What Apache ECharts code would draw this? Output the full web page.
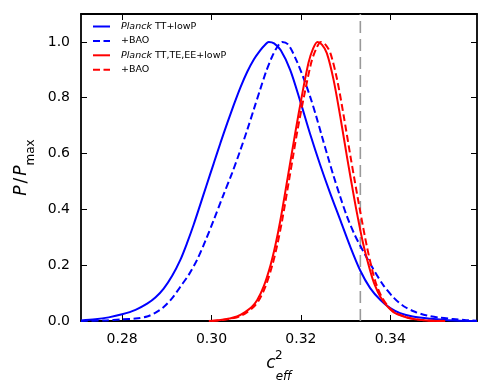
<!DOCTYPE html>
<html>
<head>
<meta charset="utf-8">
<script src="https://cdn.jsdelivr.net/npm/echarts@6/dist/echarts.min.js"></script>
<style>
html,body{margin:0;padding:0;background:#fff;}
#chart{width:491px;height:388px;}
</style>
</head>
<body>
<div id="chart"></div>
<script>
// ---- data ----
const xMin = 0.2708, xMax = 0.3594;
const yMin = 0, yMax = 1.1;
const xTicks = [0.28, 0.30, 0.32, 0.34];
const yTicks = [0.0, 0.2, 0.4, 0.6, 0.8, 1.0];
const refLineX = [0.3333];

const blueSolidX = [0.2708,0.2740,0.2770,0.2800,0.2830,0.2856,0.2875,0.2893,0.2912,0.2930,0.2945,0.2960,0.2975,0.2988,0.3005,0.3020,0.3035,0.3050,0.3065,0.3080,0.3095,0.3109,0.3120,0.3128,0.3140,0.3155,0.3176,0.3199,0.3221,0.3243,0.3265,0.3288,0.3310,0.3333,0.3355,0.3378,0.3400,0.3422,0.3450,0.3490,0.3530,0.3594];
const blueSolidY = [0.002,0.006,0.013,0.024,0.040,0.062,0.085,0.116,0.162,0.218,0.278,0.345,0.418,0.482,0.565,0.638,0.708,0.775,0.838,0.893,0.938,0.970,0.990,1.000,0.995,0.970,0.900,0.785,0.668,0.560,0.460,0.362,0.268,0.180,0.118,0.075,0.046,0.028,0.016,0.008,0.003,0.000];

const blueDashX = [0.2708,0.2760,0.2800,0.2830,0.2856,0.2875,0.2893,0.2912,0.2930,0.2950,0.2968,0.2987,0.3005,0.3025,0.3046,0.3063,0.3080,0.3095,0.3109,0.3122,0.3135,0.3147,0.3158,0.3172,0.3191,0.3206,0.3221,0.3234,0.3247,0.3260,0.3273,0.3288,0.3303,0.3320,0.3340,0.3362,0.3385,0.3408,0.3430,0.3455,0.3482,0.3510,0.3540,0.3570,0.3594];
const blueDashY = [0.000,0.002,0.006,0.009,0.016,0.030,0.050,0.082,0.122,0.168,0.220,0.290,0.362,0.445,0.530,0.605,0.685,0.760,0.830,0.893,0.945,0.982,1.000,0.990,0.930,0.870,0.802,0.735,0.662,0.590,0.520,0.445,0.375,0.310,0.248,0.186,0.127,0.083,0.053,0.033,0.020,0.012,0.007,0.003,0.001];

const redSolidX = [0.2994,0.3020,0.3040,0.3057,0.3075,0.3090,0.3102,0.3117,0.3132,0.3143,0.3154,0.3169,0.3179,0.3188,0.3202,0.3217,0.3227,0.3237,0.3247,0.3258,0.3273,0.3288,0.3303,0.3311,0.3325,0.3340,0.3355,0.3365,0.3378,0.3392,0.3407,0.3430,0.3452,0.3480,0.3520];
const redSolidY = [0.000,0.004,0.009,0.016,0.032,0.050,0.074,0.125,0.200,0.272,0.360,0.500,0.595,0.680,0.805,0.925,0.975,1.000,0.990,0.960,0.865,0.733,0.589,0.515,0.390,0.272,0.180,0.130,0.086,0.055,0.032,0.016,0.007,0.002,0.000];

const redDashX = [0.3000,0.3025,0.3045,0.3062,0.3080,0.3094,0.3106,0.3121,0.3136,0.3147,0.3158,0.3173,0.3183,0.3192,0.3207,0.3223,0.3234,0.3245,0.3255,0.3266,0.3281,0.3296,0.3311,0.3319,0.3333,0.3347,0.3360,0.3369,0.3381,0.3394,0.3409,0.3432,0.3455,0.3485,0.3525];
const redDashY = [0.000,0.004,0.009,0.016,0.032,0.050,0.074,0.125,0.200,0.272,0.360,0.500,0.595,0.680,0.805,0.925,0.975,1.000,0.990,0.960,0.865,0.733,0.589,0.515,0.390,0.272,0.180,0.130,0.086,0.055,0.032,0.016,0.007,0.002,0.000];

const seriesKeys = ['s1', 's2', 's3', 's4'];
const legendLabels = ['{i|Planck} TT+lowP', '+BAO', '{i|Planck} TT,TE,EE+lowP', '+BAO'];
// ---------------------------------------

const FONT = 'DejaVu Sans';
const zip = (xs, ys) => xs.map((x, i) => [x, ys[i]]);

const chart = echarts.init(document.getElementById('chart'), null, {renderer: 'canvas'});

const axisLineStyle = {color: '#000', width: 1.8};
const mkX = (pos, labels) => ({
  type: 'value', position: pos, min: xMin, max: xMax,
  axisLine: {show: true, onZero: false, lineStyle: axisLineStyle},
  axisTick: {show: true, inside: true, length: 6, customValues: xTicks, lineStyle: {color: '#000', width: 1}},
  axisLabel: labels ? {show: true, customValues: xTicks, formatter: v => v.toFixed(2), color: '#000', fontFamily: FONT, fontSize: 14, margin: 11} : {show: false},
  splitLine: {show: false}
});
const mkY = (pos, labels) => ({
  type: 'value', position: pos, min: yMin, max: yMax,
  axisLine: {show: true, onZero: false, lineStyle: axisLineStyle},
  axisTick: {show: true, inside: true, length: 6, customValues: yTicks, lineStyle: {color: '#000', width: 1}},
  axisLabel: labels ? {show: true, customValues: yTicks, formatter: v => v.toFixed(1), color: '#000', fontFamily: FONT, fontSize: 14, margin: 11} : {show: false},
  splitLine: {show: false}
});

const xBottom = mkX('bottom', true);
xBottom.name = '{c|c}{e|eff}';
xBottom.nameLocation = 'middle';
xBottom.nameGap = 34;
xBottom.nameTextStyle = {
  rich: {
    c: {fontFamily: FONT, fontStyle: 'italic', fontSize: 17, color: '#000', lineHeight: 22, verticalAlign: 'top'},
    e: {fontFamily: FONT, fontStyle: 'italic', fontSize: 12, color: '#000', lineHeight: 22, verticalAlign: 'bottom', padding: [0, 0, -6, 0]}
  }
};
const yLeft = mkY('left', true);
yLeft.name = '{p|P}{s|/}{p|P}{m|max}';
yLeft.nameLocation = 'middle';
yLeft.nameRotate = 90;
yLeft.nameGap = 45;
yLeft.nameTextStyle = {
  rich: {
    p: {fontFamily: FONT, fontStyle: 'italic', fontSize: 17, color: '#000', lineHeight: 22},
    s: {fontFamily: FONT, fontSize: 17, color: '#000', lineHeight: 22, padding: [0, 2, 0, 2]},
    m: {fontFamily: FONT, fontSize: 12, color: '#000', lineHeight: 22, verticalAlign: 'bottom', padding: [0, 0, -4, 0]}
  }
};

const colors = ['#0000ff', '#0000ff', '#ff0000', '#ff0000'];
const types = ['solid', [7, 3.5], 'solid', [7, 3.5]];
const datas = [zip(blueSolidX, blueSolidY), zip(blueDashX, blueDashY), zip(redSolidX, redSolidY), zip(redDashX, redDashY)];

const series = seriesKeys.map((k, i) => ({
  name: k, type: 'line', xAxisIndex: 0, yAxisIndex: 0,
  data: datas[i], showSymbol: false, symbol: 'none',
  smooth: 0.3,
  lineStyle: {color: colors[i], width: 2, type: types[i]},
  itemStyle: {color: colors[i]},
  animation: false, z: 3 + i
}));
series.unshift({
  name: 'ref', type: 'line', xAxisIndex: 0, yAxisIndex: 0,
  data: [[refLineX[0], yMin], [refLineX[0], yMax]],
  showSymbol: false, symbol: 'none', silent: true, animation: false, z: 2,
  lineStyle: {color: '#999999', width: 1.6, type: [12, 6]}
});

chart.setOption({
  animation: false,
  backgroundColor: '#fff',
  grid: {left: 81, right: 14, top: 14, bottom: 67},
  xAxis: [xBottom, mkX('top', false)],
  yAxis: [yLeft, mkY('right', false)],
  legend: {
    left: 92, top: 21.5, orient: 'vertical', padding: 0,
    itemWidth: 17, itemHeight: 10, itemGap: 4.4,
    data: seriesKeys,
    itemStyle: {opacity: 0},
    formatter: name => legendLabels[seriesKeys.indexOf(name)],
    textStyle: {fontFamily: FONT, fontSize: 9.5, color: '#000', lineHeight: 10, padding: [0, 0, 0, 6],
      rich: {i: {fontFamily: FONT, fontStyle: 'italic', fontSize: 9.5, color: '#000', lineHeight: 10}}}
  },
  graphic: [{
    type: 'text', left: 275, top: 350,
    style: {text: '2', fontFamily: FONT, fontSize: 12, fill: '#000'}
  }],
  series: series
});
</script>
</body>
</html>
